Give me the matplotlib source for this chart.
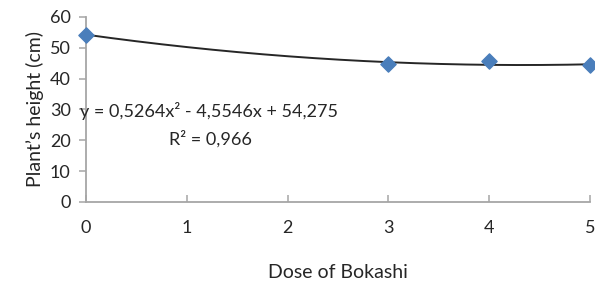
import numpy as np
import matplotlib.pyplot as plt

# data
dose = [0, 3, 4, 5]
height = [54.3, 44.8, 45.7, 44.4]
trend_coef = [0.5264, -4.5546, 54.275]
x_ticks = [0, 1, 2, 3, 4, 5]
y_ticks = [0, 10, 20, 30, 40, 50, 60]

plt.rcParams['font.family'] = ['Lato', 'DejaVu Sans']

fig = plt.figure(figsize=(5.95, 2.93), dpi=100)
ax = fig.add_axes([0.1445, 0.3106, 0.8471, 0.6314])

# trendline
xs = np.linspace(0, 5, 200)
ax.plot(xs, np.polyval(trend_coef, xs), color='#262626', lw=1.4, zorder=2)

# points
ax.scatter(dose, height, marker='D', s=60, color='#4a7ebb', zorder=3, clip_on=False)

ax.set_xlim(0, 5)
ax.set_ylim(0, 60)
ax.set_xticks(x_ticks)
ax.set_yticks(y_ticks)

for s in ['top', 'right']:
    ax.spines[s].set_visible(False)
for s in ['left', 'bottom']:
    ax.spines[s].set_color('#a6a6a6')
    ax.spines[s].set_linewidth(1.3)

ax.tick_params(axis='x', direction='in', length=5, color='#a6a6a6', width=1.1,
               pad=13, labelsize=13, labelcolor='#262626')
ax.tick_params(axis='y', direction='out', length=5, color='#a6a6a6', width=1.1,
               pad=6, labelsize=13, labelcolor='#262626')

ax.set_xlabel('Dose of Bokashi', fontsize=14, color='#262626', labelpad=20)
ax.set_ylabel('Plant\u2019s height (cm)', fontsize=14, color='#262626', labelpad=4)

# equation
ax.text(-0.06, 29.5, 'y = 0,5264x\u00b2 - 4,5546x + 54,275', fontsize=13,
        color='#262626', va='center', ha='left')
ax.text(1.23, 20.3, 'R\u00b2 = 0,966', fontsize=13, color='#262626',
        va='center', ha='center')

plt.savefig('out.png', dpi=100)
